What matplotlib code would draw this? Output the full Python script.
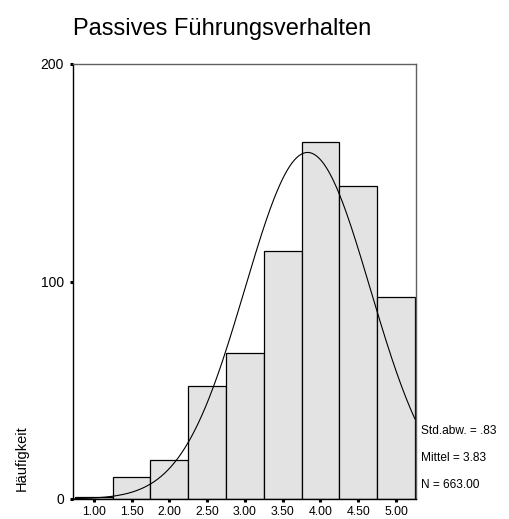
import numpy as np
import matplotlib.pyplot as plt

# histogram of the scale score, bins of width 0.5
bin_centers = [1.00, 1.50, 2.00, 2.50, 3.00, 3.50, 4.00, 4.50, 5.00]
counts = [1, 10, 18, 52, 67, 114, 164, 144, 93]
tick_labels = ["1.00", "1.50", "2.00", "2.50", "3.00", "3.50", "4.00", "4.50", "5.00"]
y_ticks = [0, 100, 200]

std_dev = 0.83
mean = 3.83
n_total = 663
bin_width = 0.5

title = "Passives Führungsverhalten"
ylabel = "Häufigkeit"

plt.rcParams["font.family"] = ["Liberation Sans", "DejaVu Sans"]

fig = plt.figure(figsize=(5.09, 5.19), dpi=100)
ax = fig.add_axes([73 / 509, 1 - 499 / 519, 343 / 509, 435 / 519])

ax.bar(bin_centers, counts, width=bin_width, color="#e3e3e3",
       edgecolor="black", linewidth=0.9, zorder=2)

# normal curve with the same mean, sd and N
xs = np.linspace(bin_centers[0] - bin_width / 2, bin_centers[-1] + bin_width / 2, 300)
pdf = np.exp(-0.5 * ((xs - mean) / std_dev) ** 2) / (std_dev * np.sqrt(2 * np.pi))
ax.plot(xs, pdf * n_total * bin_width, color="black", linewidth=0.8, zorder=3)

ax.set_xlim(0.725, 5.265)
ax.set_ylim(0, 200)
ax.set_xticks(bin_centers)
ax.set_xticklabels(tick_labels, fontsize=8.8)
ax.set_yticks(y_ticks)
ax.set_yticklabels([str(v) for v in y_ticks], fontsize=10)
ax.tick_params(axis="both", direction="out", length=2.5, width=2.2, color="black")
ax.tick_params(axis="x", pad=2.2)
ax.tick_params(axis="y", pad=4)

for side in ["top", "right"]:
    ax.spines[side].set_color("#606060")
    ax.spines[side].set_linewidth(1.0)
for side in ["left", "bottom"]:
    ax.spines[side].set_color("black")
    ax.spines[side].set_linewidth(1.0)

fig.text(73 / 509, 1 - 29 / 519, title, fontsize=17, va="center", ha="left")
fig.text(22 / 509, 1 - 491 / 519, ylabel, fontsize=10.5, rotation=90,
         va="bottom", ha="center")

stats = [f"Std.abw. = {std_dev:.2f}".replace("0.", "."),
         f"Mittel = {mean:.2f}",
         f"N = {n_total:.2f}"]
for i, line in enumerate(stats):
    fig.text(421 / 509, 1 - (431 + 27 * i) / 519, line, fontsize=8.6,
             va="center", ha="left", family=["Liberation Sans Narrow", "Liberation Sans"])

fig.savefig("out.png", dpi=100)
